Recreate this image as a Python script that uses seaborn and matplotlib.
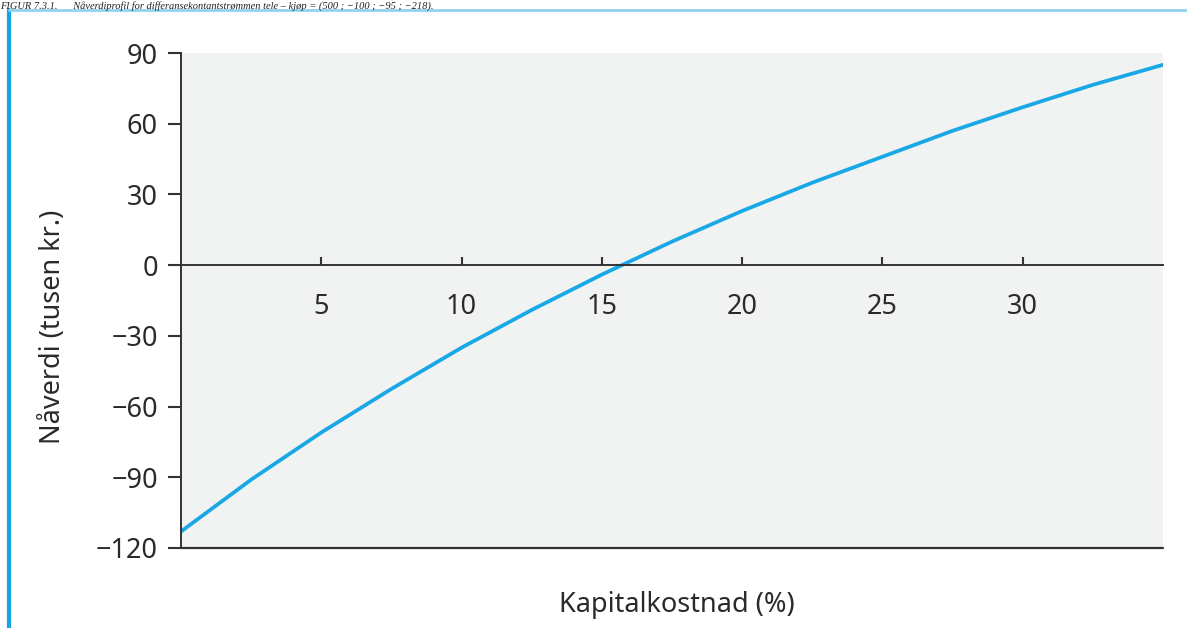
import matplotlib
matplotlib.use("Agg")
import matplotlib.pyplot as plt
import matplotlib.lines as mlines
import pandas as pd
import seaborn as sns

# kapitalkostnad (%) og naverdi (tusen kr.) lest av figuren
rente = [0, 2.5, 5, 7.5, 10, 12.5, 15, 17.5, 20, 22.5, 25, 27.5, 30, 32.5, 35]
naverdi = [-113, -91, -71, -52.5, -35, -19, -4, 10, 23, 35, 46, 57, 67, 76.5, 85]
y_ticks = [90, 60, 30, 0, -30, -60, -90, -120]
x_ticks = [5, 10, 15, 20, 25, 30]

df = pd.DataFrame({"rente": rente, "naverdi": naverdi})

sns.set_style("white")
plt.rcParams["font.family"] = ["Noto Sans", "DejaVu Sans"]
plt.rcParams["ytick.left"] = True
plt.rcParams["xtick.bottom"] = True

fig = plt.figure(figsize=(11.87, 6.28), dpi=100)
ax = fig.add_axes([0.1525, 0.1274, 0.8273, 0.7882])
ax.set_facecolor("#f1f2f2")

sns.lineplot(data=df, x="rente", y="naverdi", ax=ax, color="#19a8e6", linewidth=2.7)

ax.set_xlim(0, 35)
ax.set_ylim(-120, 90)
ax.set_yticks(y_ticks)
ax.set_yticklabels([str(v).replace("-", "\u2212") for v in y_ticks])
ax.set_xticks(x_ticks)
ax.set_xlabel("")
ax.set_ylabel("")

for s in ["top", "right"]:
    ax.spines[s].set_visible(False)
ax.spines["left"].set_color("#333333")
ax.spines["left"].set_linewidth(1.4)
ax.spines["bottom"].set_position(("data", 0))
ax.spines["bottom"].set_color("#333333")
ax.spines["bottom"].set_linewidth(1.4)
ax.axhline(-120, color="#333333", linewidth=1.6, clip_on=False)

ax.tick_params(axis="y", left=True, direction="out", length=9.5, width=1.5, color="#333333",
               labelsize=19.5, labelcolor="#2a2a2a", pad=7)
ax.tick_params(axis="x", bottom=True, direction="in", length=6, width=1.5, color="#333333",
               labelsize=19.5, labelcolor="#2a2a2a", pad=20)

fig.text(0.0446, 0.479, "Nåverdi (tusen kr.)", rotation=90, ha="center", va="center",
         fontsize=19.5, color="#2a2a2a")
fig.text(0.570, 0.036, "Kapitalkostnad (%)", ha="center", va="center",
         fontsize=19.5, color="#2a2a2a")

# figurtekst i toppen (avkuttet i originalen)
fig.text(0.0, 0.998, "FIGUR 7.3.1.      Nåverdiprofil for differansekontantstrømmen tele \u2013 kjøp = (500 ; \u2212100 ; \u221295 ; \u2212218).",
         ha="left", va="top", fontsize=7.5, style="italic",
         family=["Liberation Serif", "DejaVu Serif"], color="#222222")

# ramme
fig.add_artist(mlines.Line2D([0.0075, 0.0075], [0, 0.984], transform=fig.transFigure,
                             color="#12a4e3", linewidth=3))
fig.add_artist(mlines.Line2D([0.0075, 1.0], [0.984, 0.984], transform=fig.transFigure,
                             color="#8fd3f2", linewidth=2))

plt.savefig("out.png", dpi=100)
